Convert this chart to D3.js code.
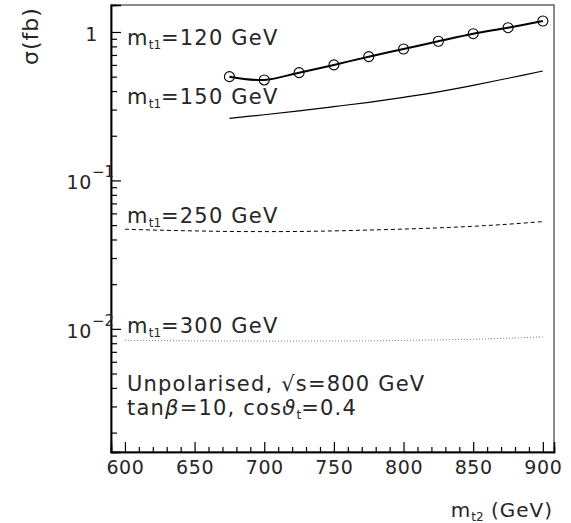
<!DOCTYPE html>
<html>
<head>
<meta charset="utf-8">
<script src="https://cdn.jsdelivr.net/npm/d3@7"></script>
<style>
  body { margin: 0; background: #fff; }
  svg text { font-family: "DejaVu Sans", sans-serif; fill: #262626; }
</style>
</head>
<body>
<svg id="chart" width="571" height="523"></svg>
<script>
// m_t2 values (GeV)
var mt2Points = [675, 700, 725, 750, 775, 800, 825, 850, 875, 900];
var mt2Wide = [600, 625, 650, 675, 700, 725, 750, 775, 800, 825, 850, 875, 900];

// cross sections in fb
var sigma120 = [0.500, 0.475, 0.532, 0.600, 0.682, 0.768, 0.866, 0.974, 1.069, 1.186];
var sigma150 = [0.262, 0.277, 0.294, 0.314, 0.336, 0.363, 0.395, 0.437, 0.488, 0.546];
var sigma250 = [0.0469, 0.0462, 0.0457, 0.0453, 0.0452, 0.0453, 0.0457, 0.0463, 0.0470, 0.0479, 0.0491, 0.0507, 0.0528];
var sigma300 = [0.00837, 0.00833, 0.00830, 0.00828, 0.00827, 0.00827, 0.00828, 0.00830, 0.00836, 0.00842, 0.00851, 0.00864, 0.00883];

var xMajor = [600, 650, 700, 750, 800, 850, 900];
var yMajor = [0.01, 0.1, 1];
var yMajorExp = ['-2', '-1', ''];

var svg = d3.select('#chart');
var plotLeft = 111, plotRight = 554, plotTop = 5, plotBottom = 452;

var x = d3.scaleLinear().domain([590, 908]).range([plotLeft, plotRight]);
var y = d3.scaleLog().domain([0.00148, 1.52]).range([plotBottom, plotTop]);

// frame
svg.append('rect')
    .attr('x', plotLeft).attr('y', plotTop)
    .attr('width', plotRight - plotLeft).attr('height', plotBottom - plotTop)
    .attr('fill', 'none').attr('stroke', '#666').attr('stroke-width', 1.5);

// minor ticks
var xMinor = d3.range(600, 901, 10).filter(function (d) { return d % 50 !== 0; });
var yMinor = [];
[0.001, 0.01, 0.1, 1].forEach(function (dec) {
    for (var k = 2; k <= 9; k++) {
        var v = dec * k;
        if (v > 0.00148 && v < 1.52) yMinor.push(v);
    }
});

var xAxisMinor = d3.axisBottom(x).tickValues(xMinor).tickSize(-5).tickFormat('');
var xAxis = d3.axisBottom(x).tickValues(xMajor).tickSize(-10).tickPadding(9).tickFormat(d3.format('d'));
var yAxisMinor = d3.axisLeft(y).tickValues(yMinor).tickSize(-6).tickFormat('');
var yAxis = d3.axisLeft(y).tickValues(yMajor).tickSize(-10).tickFormat('');

function styleAxis(g) {
    g.select('.domain').attr('stroke', '#000').attr('stroke-width', 1.5);
    g.selectAll('.tick line').attr('stroke', '#000').attr('stroke-width', 1.2);
}

svg.append('g').attr('transform', 'translate(0,' + plotBottom + ')').call(xAxisMinor).call(styleAxis);
var gx = svg.append('g').attr('transform', 'translate(0,' + plotBottom + ')').call(xAxis).call(styleAxis);
gx.selectAll('.tick text')
    .attr('font-size', 19).attr('font-family', 'DejaVu Sans, sans-serif')
    .attr('fill', '#262626').attr('letter-spacing', 0.6);
svg.append('g').attr('transform', 'translate(' + plotLeft + ',0)').call(yAxisMinor).call(styleAxis);
svg.append('g').attr('transform', 'translate(' + plotLeft + ',0)').call(yAxis).call(styleAxis);

// y tick labels with exponents
yMajor.forEach(function (v, i) {
    svg.append('text')
        .attr('text-anchor', 'end')
        .attr('font-size', 19)
        .attr('letter-spacing', 0.6)
        .attr('x', v === 1 ? 98 : 92)
        .attr('y', y(v) + 9)
        .text(v === 1 ? '1' : '10');
    if (yMajorExp[i]) {
        svg.append('text')
            .attr('font-size', 15)
            .attr('x', 92)
            .attr('y', y(v) - 3)
            .text('\u2212' + yMajorExp[i].replace('-', ''));
    }
});

// curves
var lineSmooth = d3.line()
    .x(function (d) { return x(d[0]); })
    .y(function (d) { return y(d[1]); })
    .curve(d3.curveCatmullRom.alpha(0.5));

function pairs(xs, ys) {
    return xs.map(function (d, i) { return [d, ys[i]]; });
}

svg.append('path').datum(pairs(mt2Points, sigma120))
    .attr('d', lineSmooth).attr('fill', 'none').attr('stroke', '#000').attr('stroke-width', 2);
svg.append('path').datum(pairs(mt2Points, sigma150))
    .attr('d', lineSmooth).attr('fill', 'none').attr('stroke', '#000').attr('stroke-width', 1.2);
svg.append('path').datum(pairs(mt2Wide, sigma250))
    .attr('d', lineSmooth).attr('fill', 'none').attr('stroke', '#000').attr('stroke-width', 1)
    .attr('stroke-dasharray', '4,3');
svg.append('path').datum(pairs(mt2Wide, sigma300))
    .attr('d', lineSmooth).attr('fill', 'none').attr('stroke', '#777').attr('stroke-width', 1)
    .attr('stroke-dasharray', '1,2');

svg.append('g').selectAll('circle')
    .data(pairs(mt2Points, sigma120))
    .enter()
    .append('circle')
    .attr('cx', function (d) { return x(d[0]); })
    .attr('cy', function (d) { return y(d[1]); })
    .attr('r', 5)
    .attr('fill', 'none')
    .attr('stroke', '#000')
    .attr('stroke-width', 1.1);

// curve labels
var massLabels = [
    {m: '120', yb: 45},
    {m: '150', yb: 104},
    {m: '250', yb: 223},
    {m: '300', yb: 333}
];
massLabels.forEach(function (l) {
    var t = svg.append('text').attr('x', 127).attr('y', l.yb)
        .attr('font-size', 21).attr('letter-spacing', 1.2);
    t.append('tspan').text('m');
    t.append('tspan').attr('font-size', 12).attr('dy', 4).attr('letter-spacing', 0).text('t1');
    t.append('tspan').attr('dy', -4).text('=' + l.m + ' GeV');
});

// parameter text
svg.append('text').attr('x', 127).attr('y', 391).attr('font-size', 21).attr('letter-spacing', 1.2)
    .text('Unpolarised, \u221As=800 GeV');
var t2 = svg.append('text').attr('x', 127).attr('y', 415).attr('font-size', 21).attr('letter-spacing', 1.2);
t2.append('tspan').text('tan');
t2.append('tspan').attr('font-style', 'italic').text('\u03B2');
t2.append('tspan').text('=10, cos');
t2.append('tspan').attr('font-style', 'italic').text('\u03D1');
t2.append('tspan').attr('font-size', 12).attr('dy', 4).attr('letter-spacing', 0).text('t');
t2.append('tspan').attr('dy', -4).text('=0.4');

// axis titles
var xt = svg.append('text').attr('x', 553).attr('y', 517).attr('text-anchor', 'end')
    .attr('font-size', 20).attr('letter-spacing', 1);
xt.append('tspan').text('m');
xt.append('tspan').attr('font-size', 12).attr('dy', 4).attr('letter-spacing', 0).text('t2');
xt.append('tspan').attr('dy', -4).text(' (GeV)');

svg.append('text')
    .attr('transform', 'translate(38,36) rotate(-90)')
    .attr('text-anchor', 'middle')
    .attr('font-size', 22)
    .attr('letter-spacing', 1)
    .text('\u03C3(fb)');
</script>
</body>
</html>
